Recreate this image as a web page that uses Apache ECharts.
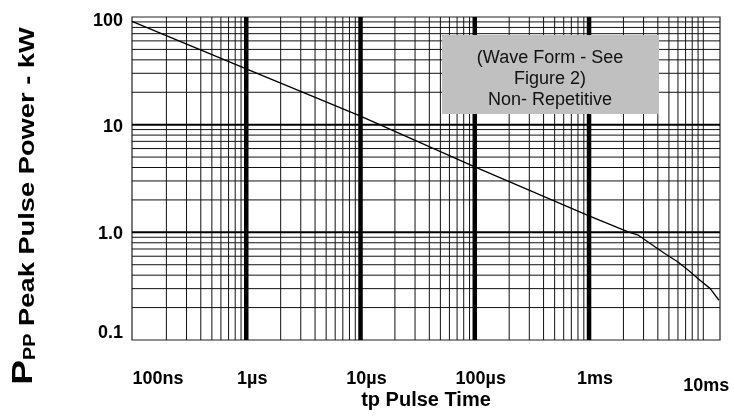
<!DOCTYPE html>
<html><head><meta charset="utf-8">
<script src="https://cdn.jsdelivr.net/npm/echarts@6/dist/echarts.min.js"></script>
<style>html,body{margin:0;padding:0;background:#fff}#c{width:735px;height:416px}</style>
</head><body><div id="c"></div>
<script>
// ---- data ----
const pulseTime = [1e-7, 1e-6, 1e-5, 1e-4, 1e-3, 2.2e-3, 2.7e-3, 3.8e-3, 4.6e-3, 6.0e-3, 7.4e-3, 9.3e-3, 1.15e-2, 1.37e-2];
const peakPower = [91, 33, 12, 4.05, 1.42, 1.01, 0.94, 0.73, 0.635, 0.53, 0.445, 0.36, 0.30, 0.234];
const xTickValues = [1e-7, 1e-6, 1e-5, 1e-4, 1e-3, 1e-2];
const xTickLabels = ['100ns', '1µs', '10µs', '100µs', '1ms', '10ms'];
const yTickValues = [0.1, 1, 10, 100];
const yTickLabels = ['0.1', '1.0', '10', '100'];
const thickXLines = [1e-6, 1e-5, 1e-4, 1e-3];
const minorDecadesX = [1e-7, 1e-6, 1e-5, 1e-4, 1e-3];
const minorDecadesY = [0.1, 1, 10];
const majorYLines = [1, 10];
const minorSteps = [2, 3, 4, 5, 6, 7, 8, 9];
const noteLines = ['(Wave Form - See', 'Figure 2)', 'Non- Repetitive'];
const xAxisTitle = 'tp Pulse Time';
const xMin = 1e-7, xMax = 0.014, yMin = 0.1, yMax = 100;

const FONT = '"Liberation Sans", Arial, Helvetica, sans-serif';
const chart = echarts.init(document.getElementById('c'), null, {renderer: 'canvas'});

function near(a, b) { return Math.abs(Math.log10(a) - Math.log10(b)) < 1e-6; }

const xLabelRich = {
  first: {fontSize: 18, fontWeight: 'bold', fontFamily: FONT, color: '#000', padding: [0, 0, 0, 52]},
  mid: {fontSize: 18, fontWeight: 'bold', fontFamily: FONT, color: '#000', padding: [0, 0, 0, 12]},
  last: {fontSize: 18, fontWeight: 'bold', fontFamily: FONT, color: '#000', padding: [7, 0, 0, 6]}
};
const yLabelRich = {
  top: {fontSize: 18, fontWeight: 'bold', fontFamily: FONT, color: '#000', padding: [8, 0, 0, 0]},
  mid: {fontSize: 18, fontWeight: 'bold', fontFamily: FONT, color: '#000', padding: [4, 0, 0, 0]},
  bot: {fontSize: 18, fontWeight: 'bold', fontFamily: FONT, color: '#000', padding: [0, 0, 14, 0]}
};

// grid lines drawn as two-point line series through the log scales
const gridSeries = [];
function vLine(v, w, c) {
  gridSeries.push({type: 'line', data: [[v, yMin], [v, yMax]], symbol: 'none', silent: true, z: 1,
    lineStyle: {color: c, width: w}, emphasis: {disabled: true}});
}
function hLine(v, w, c) {
  gridSeries.push({type: 'line', data: [[xMin, v], [xMax, v]], symbol: 'none', silent: true, z: 1,
    lineStyle: {color: c, width: w}, emphasis: {disabled: true}});
}
minorDecadesX.forEach(d => minorSteps.forEach(s => vLine(d * s, 1, '#111')));
vLine(1e-2, 1, '#111');
minorDecadesY.forEach(d => minorSteps.forEach(s => hLine(d * s, 1, '#111')));
majorYLines.forEach(v => hLine(v, 2, '#000'));
thickXLines.forEach(v => vLine(v, 4.5, '#000'));

const option = {
  animation: false,
  backgroundColor: '#fff',
  grid: {left: 132, right: 15, top: 17, bottom: 76, show: true, borderColor: '#222', borderWidth: 1.2,
    containLabel: false, outerBoundsMode: 'none'},
  xAxis: {
    type: 'log', logBase: 10, min: xMin, max: xMax,
    axisLine: {show: false}, axisTick: {show: false}, splitLine: {show: false},
    axisLabel: {
      margin: 30, rich: xLabelRich,
      formatter: function (v) {
        const i = xTickValues.findIndex(t => near(t, v));
        if (i < 0) return '';
        const st = i === 0 ? 'first' : (i === xTickValues.length - 1 ? 'last' : 'mid');
        return '{' + st + '|' + xTickLabels[i] + '}';
      }
    },
    name: xAxisTitle, nameLocation: 'middle', nameGap: 50, nameMoveOverlap: false,
    nameTextStyle: {fontSize: 20, fontWeight: 'bold', fontFamily: FONT, color: '#000'}
  },
  yAxis: {
    type: 'log', logBase: 10, min: yMin, max: yMax,
    axisLine: {show: false}, axisTick: {show: false}, splitLine: {show: false},
    axisLabel: {
      margin: 9, rich: yLabelRich,
      formatter: function (v) {
        const i = yTickValues.findIndex(t => near(t, v));
        if (i < 0) return '';
        const st = i === 0 ? 'bot' : (i === yTickValues.length - 1 ? 'top' : 'mid');
        return '{' + st + '|' + yTickLabels[i] + '}';
      }
    }
  },
  series: gridSeries.concat([{
    type: 'line',
    data: pulseTime.map((t, i) => [t, peakPower[i]]),
    symbol: 'none', smooth: false, z: 5,
    lineStyle: {color: '#000', width: 1.3}
  }]),
  graphic: [
    {
      type: 'group', left: 442, top: 35, z: 100, zlevel: 1,
      children: [
        {type: 'rect', z: 100, zlevel: 1, shape: {x: 0, y: 0, width: 217, height: 79}, style: {fill: '#c0c0c0'}},
        {type: 'text', z: 101, zlevel: 1, x: 108, y: 13, style: {text: noteLines.join('\n'), fill: '#111', font: '18px ' + FONT, textAlign: 'center', lineHeight: 21}}
      ]
    },
    {
      type: 'text', x: 24, y: 206, rotation: Math.PI / 2, scaleX: 1.24, z: 100,
      style: {
        text: '{big|P}{sub|PP}{main| Peak Pulse Power - kW}',
        textAlign: 'center', textVerticalAlign: 'middle',
        rich: {
          big: {fontSize: 30, fontWeight: 'bold', fontFamily: FONT, fill: '#000', verticalAlign: 'bottom', lineHeight: 30},
          sub: {fontSize: 16, fontWeight: 'bold', fontFamily: FONT, fill: '#000', verticalAlign: 'bottom', lineHeight: 28},
          main: {fontSize: 22, fontWeight: 'bold', fontFamily: FONT, fill: '#000', verticalAlign: 'bottom', lineHeight: 30}
        }
      }
    }
  ]
};
chart.setOption(option);
</script>
</body></html>
